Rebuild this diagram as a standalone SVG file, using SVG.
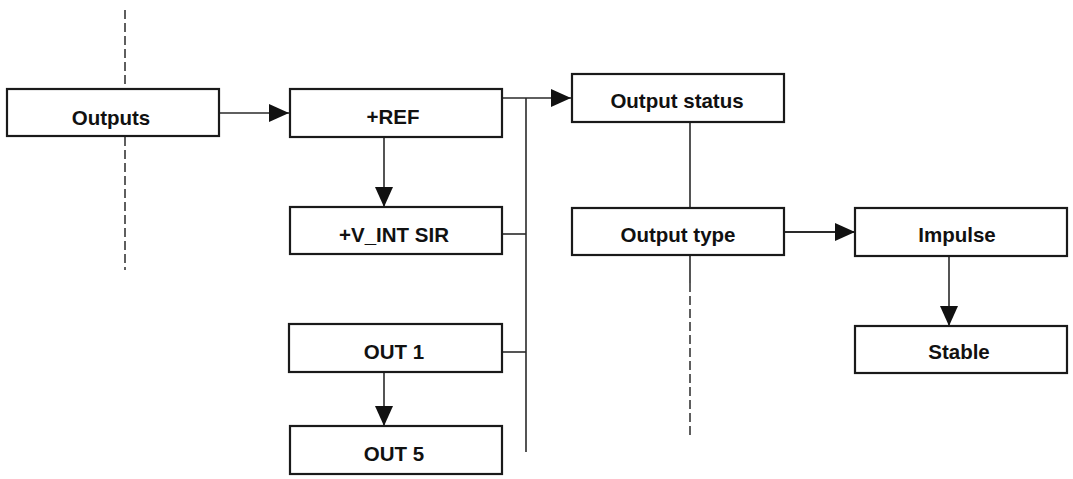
<svg xmlns="http://www.w3.org/2000/svg" width="1073" height="479" viewBox="0 0 1073 479">
<defs>
<marker id="arr" markerUnits="userSpaceOnUse" markerWidth="20" markerHeight="18" refX="20" refY="9" orient="auto">
<path d="M0,0 L20,9 L0,18 z" fill="#111"/>
</marker>
<style>
.box{fill:#fff;stroke:#1a1a1a;stroke-width:2.2}
.lbl{font-family:"Liberation Sans",Arial,sans-serif;font-weight:bold;font-size:20.5px;fill:#111;text-anchor:middle}
.ln{fill:none;stroke:#2a2a2a;stroke-width:1.6}
.dash{fill:none;stroke:#2a2a2a;stroke-width:1.5;stroke-dasharray:9 4}
</style>
</defs>
<rect width="1073" height="479" fill="#fff"/>
<g id="guides">
<line class="dash" x1="125" y1="10" x2="125" y2="89"/>
<line class="dash" x1="125" y1="137" x2="125" y2="270"/>
<line class="ln" x1="690" y1="255" x2="690" y2="283"/>
<line class="dash" x1="690" y1="283" x2="690" y2="435"/>
</g>
<g id="connectors">
<line class="ln" x1="219" y1="113" x2="289" y2="113" marker-end="url(#arr)"/>
<line class="ln" x1="384" y1="137" x2="384" y2="207" marker-end="url(#arr)"/>
<line class="ln" x1="502" y1="98" x2="571" y2="98" marker-end="url(#arr)"/>
<line class="ln" x1="526" y1="98" x2="526" y2="452"/>
<line class="ln" x1="502" y1="234" x2="526" y2="234"/>
<line class="ln" x1="502" y1="352" x2="526" y2="352"/>
<line class="ln" x1="384" y1="372" x2="384" y2="426" marker-end="url(#arr)"/>
<line class="ln" x1="690" y1="122" x2="690" y2="208"/>
<line class="ln" style="stroke-width:2.2" x1="784" y1="232" x2="855" y2="232" marker-end="url(#arr)"/>
<line class="ln" x1="949" y1="256" x2="949" y2="326" marker-end="url(#arr)"/>
</g>
<g id="n-outputs"><rect class="box" x="7" y="89" width="212" height="47"/><text class="lbl" x="111" y="125">Outputs</text></g>
<g id="n-ref"><rect class="box" x="290" y="89" width="212" height="48"/><text class="lbl" x="393" y="124">+REF</text></g>
<g id="n-vint"><rect class="box" x="290" y="207" width="212" height="47"/><text class="lbl" x="394" y="242">+V_INT SIR</text></g>
<g id="n-out1"><rect class="box" x="289" y="324" width="213" height="48"/><text class="lbl" x="394" y="359">OUT 1</text></g>
<g id="n-out5"><rect class="box" x="290" y="426" width="212" height="48"/><text class="lbl" x="394" y="461">OUT 5</text></g>
<g id="n-status"><rect class="box" x="572" y="74" width="212" height="48"/><text class="lbl" x="677" y="108">Output status</text></g>
<g id="n-type"><rect class="box" x="572" y="208" width="212" height="47"/><text class="lbl" x="678" y="242">Output type</text></g>
<g id="n-impulse"><rect class="box" x="855" y="208" width="212" height="48"/><text class="lbl" x="957" y="242">Impulse</text></g>
<g id="n-stable"><rect class="box" x="855" y="326" width="212" height="47"/><text class="lbl" x="959" y="359">Stable</text></g>
</svg>
